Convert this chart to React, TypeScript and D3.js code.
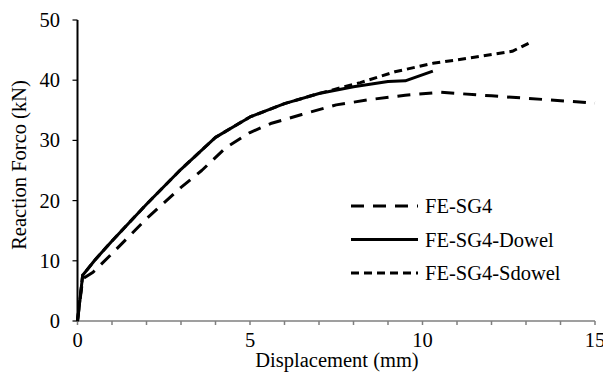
import React from "react";
import * as d3 from "d3";

const xTicks = [0, 5, 10, 15];
const yTicks = [0, 10, 20, 30, 40, 50];
const seriesNames = ["FE-SG4", "FE-SG4-Dowel", "FE-SG4-Sdowel"];

const sg4X = [0, 0.15, 0.45, 1.0, 2.0, 3.0, 3.6, 4.3, 5.0, 5.6, 6.5, 7.5, 8.5, 9.5, 10.5, 12.0, 13.5, 15.0];
const sg4Y = [0, 7.0, 8.1, 11.2, 17.0, 22.2, 25.0, 28.8, 31.3, 32.8, 34.3, 35.9, 36.8, 37.5, 38.0, 37.4, 36.8, 36.2];

const dowelX = [0, 0.15, 0.25, 0.5, 1.0, 2.0, 3.0, 4.0, 5.0, 6.0, 7.0, 8.0, 9.0, 9.5, 10.3];
const dowelY = [0, 7.6, 8.3, 10.1, 13.3, 19.4, 25.2, 30.5, 33.9, 36.1, 37.8, 38.9, 39.8, 39.9, 41.5];

const sdowelX = [0, 0.15, 0.25, 0.5, 1.0, 2.0, 3.0, 4.0, 5.0, 6.0, 7.0, 8.2, 9.2, 10.3, 11.5, 12.6, 13.1];
const sdowelY = [0, 7.6, 8.3, 10.1, 13.3, 19.4, 25.2, 30.5, 33.9, 36.1, 37.8, 39.6, 41.4, 42.8, 43.8, 44.8, 46.2];

const dashes = ["13,9", "", "8,5"];

export default function App() {
  const x = d3.scaleLinear().domain([0, 15]).range([77.5, 595]);
  const y = d3.scaleLinear().domain([0, 50]).range([321, 20]);
  const line = d3
    .line<[number, number]>()
    .x((d) => x(d[0]))
    .y((d) => y(d[1]));
  const data: [number, number][][] = [
    sg4X.map((v, i) => [v, sg4Y[i]]),
    dowelX.map((v, i) => [v, dowelY[i]]),
    sdowelX.map((v, i) => [v, sdowelY[i]]),
  ];
  const minor = d3.range(0, 16, 1);
  const ts: React.CSSProperties = { fontFamily: "Liberation Serif", fontSize: 20.5 };
  return (
    <svg
      width={603}
      height={374}
      style={{ position: "absolute", left: 0, top: 0, background: "#fff" }}
    >
      {/* x axis */}
      <line x1={x(0)} x2={x(15)} y1={y(0)} y2={y(0)} stroke="#7f7f7f" strokeWidth={1.5} />
      {minor.map((t) => (
        <line key={"mt" + t} x1={x(t)} x2={x(t)} y1={y(0)} y2={y(0) + 4} stroke="#7f7f7f" strokeWidth={1.5} />
      ))}
      {xTicks.map((t) => (
        <text key={"xt" + t} x={x(t)} y={347} textAnchor="middle" style={ts} fill="#000">
          {t}
        </text>
      ))}
      {/* y axis */}
      {yTicks.map((t) => (
        <g key={"yt" + t}>
          <line x1={x(0) - 5} x2={x(0)} y1={y(t)} y2={y(t)} stroke="#000" strokeWidth={1.2} />
          <text x={60} y={y(t) + 7} textAnchor="end" style={ts} fill="#000">
            {t}
          </text>
        </g>
      ))}
      <line x1={x(0)} x2={x(0)} y1={y(0)} y2={y(50)} stroke="#000" strokeWidth={2} />
      <text
        transform={`translate(26,165) rotate(-90)`}
        textAnchor="middle"
        style={ts}
        fill="#000"
      >
        Reaction Forco (kN)
      </text>
      <text x={337} y={367} textAnchor="middle" style={ts} fill="#000">
        Displacement (mm)
      </text>
      {/* series */}
      {data.map((d, i) => (
        <path
          key={"s" + i}
          d={line(d) || ""}
          fill="none"
          stroke="#000"
          strokeWidth={3}
          strokeDasharray={dashes[i] || undefined}
          strokeLinejoin="round"
        />
      ))}
      {/* legend */}
      {seriesNames.map((n, i) => {
        const ly = 206 + i * 33.5;
        return (
          <g key={"lg" + i}>
            <line x1={351} x2={418} y1={ly} y2={ly} stroke="#000" strokeWidth={3} strokeDasharray={dashes[i] || undefined} />
            <text x={425} y={ly + 7} style={ts} fill="#000">
              {n}
            </text>
          </g>
        );
      })}
    </svg>
  );
}
